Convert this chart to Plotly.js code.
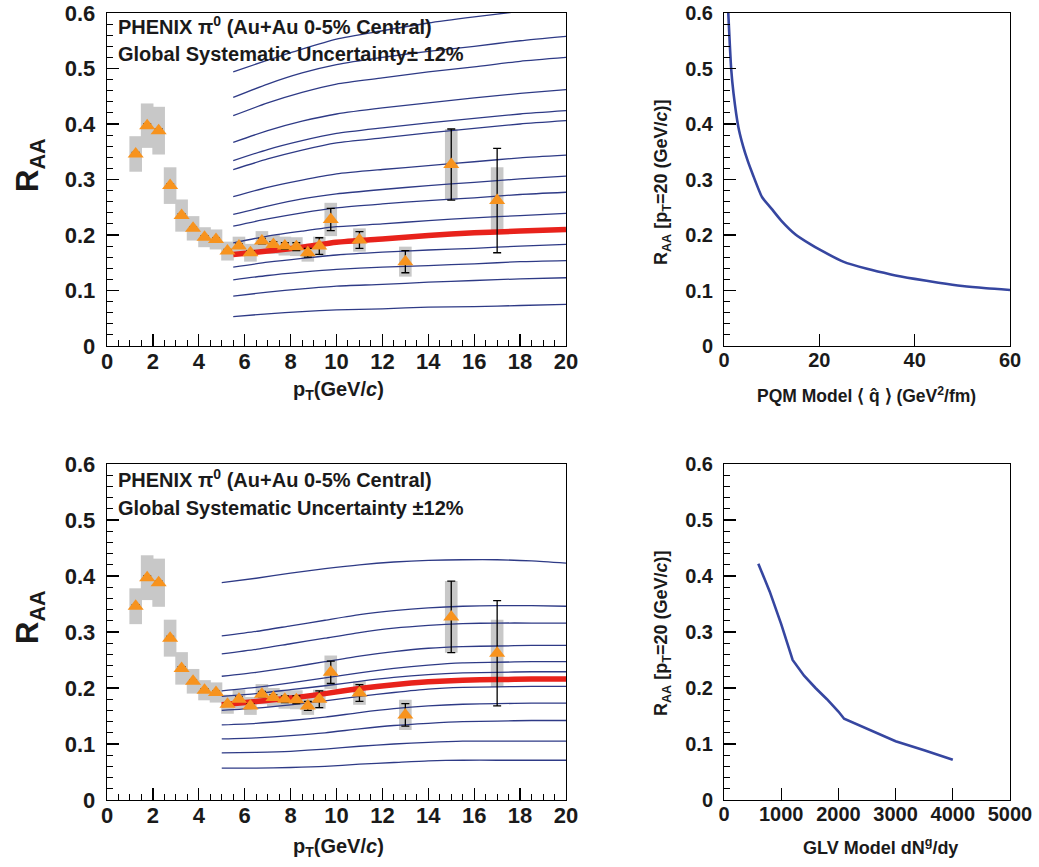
<!DOCTYPE html>
<html>
<head>
<meta charset="utf-8">
<script src="https://cdn.plot.ly/plotly-3.0.1.min.js"></script>
<style>html,body{margin:0;padding:0;background:#fff;}#chart{width:1039px;height:867px;}</style>
</head>
<body>
<div id="chart"></div>
<script>
// ---------- PHENIX pi0 data (Au+Au 0-5%) ----------
const pt      = [1.25,1.75,2.25,2.75,3.25,3.75,4.25,4.75,5.25,5.75,6.25,6.75,7.25,7.75,8.25,8.75,9.25,9.75,11,13,15,17];
const raa     = [0.346,0.397,0.388,0.289,0.235,0.212,0.196,0.192,0.171,0.180,0.168,0.189,0.183,0.180,0.179,0.168,0.180,0.228,0.191,0.152,0.327,0.262];
const statErr = [0.003,0.003,0.003,0.003,0.003,0.003,0.003,0.003,0.003,0.004,0.004,0.005,0.005,0.006,0.007,0.008,0.015,0.020,0.015,0.020,0.064,0.094];
const sysErr  = [0.032,0.040,0.043,0.033,0.029,0.022,0.018,0.018,0.017,0.017,0.016,0.018,0.017,0.017,0.017,0.016,0.017,0.030,0.021,0.027,0.064,0.060];

// ---------- PQM model curves (top left) ----------
const pqmPt   = [5.5,7,8.5,10,12,14,16,18,20];
const pqm01   = [0.494,0.515,0.535,0.553,0.568,0.582,0.593,0.603,0.612];
const pqm02   = [0.448,0.472,0.492,0.507,0.520,0.531,0.540,0.550,0.558];
const pqm03   = [0.415,0.438,0.457,0.472,0.483,0.494,0.503,0.513,0.520];
const pqm04   = [0.367,0.388,0.405,0.418,0.429,0.438,0.447,0.455,0.462];
const pqm05   = [0.334,0.354,0.370,0.383,0.393,0.402,0.410,0.418,0.424];
const pqm06   = [0.318,0.337,0.353,0.366,0.375,0.384,0.392,0.400,0.406];
const pqm07   = [0.269,0.286,0.299,0.310,0.318,0.325,0.332,0.339,0.344];
const pqm08   = [0.237,0.252,0.265,0.274,0.282,0.289,0.295,0.301,0.306];
const pqm09   = [0.216,0.229,0.240,0.249,0.256,0.262,0.267,0.273,0.277];
const pqm10   = [0.186,0.198,0.207,0.215,0.220,0.226,0.231,0.235,0.239];
const pqm11   = [0.142,0.151,0.158,0.164,0.169,0.173,0.176,0.180,0.183];
const pqm12   = [0.119,0.127,0.133,0.138,0.142,0.145,0.148,0.152,0.154];
const pqm13   = [0.090,0.097,0.103,0.108,0.111,0.115,0.118,0.121,0.123];
const pqm14   = [0.053,0.058,0.062,0.065,0.067,0.070,0.071,0.073,0.075];
const pqmBest = [0.165,0.171,0.178,0.187,0.193,0.199,0.204,0.207,0.210];

// ---------- GLV model curves (bottom left) ----------
const glvPt   = [5,6.5,8,9.5,11,12.5,14,15.5,17,18.5,20];
const glv01   = [0.388,0.396,0.405,0.413,0.420,0.425,0.428,0.429,0.429,0.427,0.423];
const glv02   = [0.293,0.301,0.311,0.321,0.331,0.338,0.343,0.346,0.347,0.347,0.346];
const glv03   = [0.261,0.269,0.279,0.289,0.299,0.307,0.312,0.315,0.316,0.316,0.316];
const glv04   = [0.221,0.228,0.237,0.247,0.257,0.265,0.271,0.274,0.275,0.276,0.276];
const glv05   = [0.195,0.201,0.209,0.218,0.227,0.235,0.241,0.245,0.246,0.247,0.247];
const glv06   = [0.185,0.190,0.197,0.204,0.212,0.219,0.224,0.227,0.228,0.229,0.229];
const glv07   = [0.160,0.164,0.170,0.177,0.185,0.192,0.198,0.201,0.202,0.203,0.203];
const glv08   = [0.134,0.137,0.142,0.148,0.156,0.163,0.168,0.171,0.172,0.173,0.173];
const glv09   = [0.109,0.111,0.115,0.120,0.127,0.133,0.137,0.140,0.141,0.142,0.142];
const glv10   = [0.084,0.085,0.087,0.091,0.096,0.100,0.103,0.105,0.105,0.105,0.105];
const glv11   = [0.057,0.057,0.058,0.060,0.064,0.067,0.070,0.071,0.071,0.071,0.071];
const glvBest = [0.170,0.176,0.182,0.190,0.199,0.206,0.211,0.214,0.215,0.216,0.216];

// ---------- R_AA(pT=20) vs model parameter (right) ----------
const qhat    = [0.9,1.5,2,3,4,5,6,8,10,12,15,18,20,25,30,35,40,45,50,55,60];
const raaQhat = [0.600,0.500,0.455,0.395,0.360,0.333,0.310,0.268,0.247,0.226,0.201,0.184,0.174,0.152,0.139,0.129,0.121,0.114,0.108,0.104,0.101];
const dNg     = [600,800,1000,1200,1400,1600,1800,2000,2100,2500,3000,3500,4000];
const raaDNg  = [0.422,0.372,0.314,0.250,0.222,0.200,0.180,0.158,0.145,0.127,0.105,0.089,0.072];

// ---------- texts ----------
const label1 = 'PHENIX π<sup>0</sup> (Au+Au 0-5% Central)';
const label2Top = 'Global Systematic Uncertainty± 12%';
const label2Bot = 'Global Systematic Uncertainty ±12%';
const yTitleLeft = 'R<sub>AA</sub>';
const xTitleLeft = 'p<sub>T</sub>(GeV/<i>c</i>)';
const yTitleRight = 'R<sub>AA</sub> [p<sub>T</sub>=20 (GeV/<i>c</i>)]';
const xTitlePQM = 'PQM Model ⟨ q\u0302 ⟩ (GeV<sup>2</sup>/fm)';
const xTitleGLV = 'GLV Model dN<sup>g</sup>/dy';

// ---------- styles ----------
const FONT = 'Liberation Sans, Arial, Helvetica, sans-serif';
const BLUE = '#2e3a86';
const RED = '#e8221b';
const ORANGE = '#f7931e';
const GREY = '#c8c8c8';

const traces = [];
function dataTraces(xa, ya) {
  traces.push({
    type: 'bar', x: pt, y: sysErr.map(s => 2 * s), base: raa.map((v, i) => v - sysErr[i]),
    width: 0.55, marker: {color: GREY, line: {width: 0}}, xaxis: xa, yaxis: ya,
    showlegend: false, hoverinfo: 'skip'
  });
}
function curve(x, y, xa, ya, color, width) {
  traces.push({type: 'scatter', mode: 'lines', x: x, y: y, xaxis: xa, yaxis: ya,
    line: {color: color, width: width, shape: 'spline', smoothing: 0.6}, showlegend: false, hoverinfo: 'skip'});
}
function points(xa, ya) {
  traces.push({
    type: 'scatter', mode: 'markers', x: pt, y: raa, xaxis: xa, yaxis: ya,
    marker: {symbol: 'triangle-up', size: 14, color: ORANGE, line: {width: 0}},
    error_y: {type: 'data', array: statErr, visible: true, color: '#000', thickness: 1.3, width: 4},
    showlegend: false
  });
}

// top-left
dataTraces('x', 'y');
[pqm01,pqm02,pqm03,pqm04,pqm05,pqm06,pqm07,pqm08,pqm09,pqm10,pqm11,pqm12,pqm13,pqm14]
  .forEach(c => curve(pqmPt, c, 'x', 'y', BLUE, 1.3));
curve(pqmPt, pqmBest, 'x', 'y', RED, 5.5);
points('x', 'y');

// bottom-left
dataTraces('x3', 'y3');
[glv01,glv02,glv03,glv04,glv05,glv06,glv07,glv08,glv09,glv10,glv11]
  .forEach(c => curve(glvPt, c, 'x3', 'y3', BLUE, 1.3));
curve(glvPt, glvBest, 'x3', 'y3', RED, 5.5);
points('x3', 'y3');

// right panels
curve(qhat, raaQhat, 'x2', 'y2', '#3646a0', 2.6);
traces.push({type: 'scatter', mode: 'lines', x: dNg, y: raaDNg, xaxis: 'x4', yaxis: 'y4',
  line: {color: '#3646a0', width: 2.6}, showlegend: false});

function axis(opts) {
  return Object.assign({
    showgrid: false, zeroline: false, showline: true, mirror: true,
    linecolor: '#000', linewidth: 1.3, ticks: 'inside', ticklen: 12, tickwidth: 1.2, tickcolor: '#000',
    tickfont: {family: FONT, size: 22, color: '#1a1a1a', weight: 'bold'},
    fixedrange: true, exponentformat: 'none', automargin: false, ticklabeloverflow: 'allow'
  }, opts);
}
const yMinor = {dtick: 0.02, ticks: 'inside', ticklen: 6, tickcolor: '#000', tickwidth: 1, showgrid: false};
const rightFont = {family: FONT, size: 20, color: '#1a1a1a', weight: 'bold'};

const topY = [1 - 346/867, 1 - 13/867];
const botY = [1 - 800/867, 1 - 464/867];
const leftX = [107/1039, 566/1039];
const rightX = [724/1039, 1010/1039];

const layout = {
  width: 1039, height: 867,
  margin: {l: 0, r: 0, t: 0, b: 0},
  paper_bgcolor: '#fff', plot_bgcolor: '#fff',
  barmode: 'overlay', showlegend: false,
  xaxis:  axis({domain: leftX, anchor: 'y', range: [0, 20], dtick: 2, tick0: 0, ticklabelstandoff: -5,
                minor: {dtick: 0.5, ticks: 'inside', ticklen: 6, tickcolor: '#000', tickwidth: 1, showgrid: false}}),
  yaxis:  axis({domain: topY, anchor: 'x', range: [0, 0.6], dtick: 0.1, tick0: 0, ticklabelstandoff: 6, minor: yMinor}),
  xaxis3: axis({domain: leftX, anchor: 'y3', range: [0, 20], dtick: 2, tick0: 0, ticklabelstandoff: -5,
                minor: {dtick: 0.5, ticks: 'inside', ticklen: 6, tickcolor: '#000', tickwidth: 1, showgrid: false}}),
  yaxis3: axis({domain: botY, anchor: 'x3', range: [0, 0.6], dtick: 0.1, tick0: 0, ticklabelstandoff: 6, minor: yMinor}),
  xaxis2: axis({domain: rightX, anchor: 'y2', range: [0, 60], dtick: 20, tick0: 0, linewidth: 1, ticklabelstandoff: -4, tickfont: rightFont}),
  yaxis2: axis({domain: topY, anchor: 'x2', range: [0, 0.6], dtick: 0.1, tick0: 0, linewidth: 1, ticklabelstandoff: 6, minor: yMinor, tickfont: rightFont}),
  xaxis4: axis({domain: rightX, anchor: 'y4', range: [0, 5000], dtick: 1000, tick0: 0, linewidth: 1, ticklabelstandoff: -4, tickfont: rightFont}),
  yaxis4: axis({domain: botY, anchor: 'x4', range: [0, 0.6], dtick: 0.1, tick0: 0, linewidth: 1, ticklabelstandoff: 6, minor: yMinor, tickfont: rightFont}),
  annotations: []
};

function ann(text, px, py, size, opts) {
  layout.annotations.push(Object.assign({
    text: text, xref: 'paper', yref: 'paper', x: px / 1039, y: 1 - py / 867,
    showarrow: false, xanchor: 'center', yanchor: 'middle',
    font: {family: FONT, size: size, color: '#1a1a1a', weight: 'bold'}
  }, opts || {}));
}
// in-plot labels
ann(label1, 116, 25, 20, {xanchor: 'left'});
ann(label2Top, 116, 54, 20, {xanchor: 'left'});
ann(label1, 116, 478, 20, {xanchor: 'left'});
ann(label2Bot, 116, 508, 20, {xanchor: 'left'});
// axis titles
ann(yTitleLeft, 30, 165, 31, {textangle: -90});
ann(yTitleLeft, 30, 617, 31, {textangle: -90});
ann(xTitleLeft, 338, 391, 20);
ann(xTitleLeft, 338, 847, 20);
ann(yTitleRight, 662, 183, 18, {textangle: -90});
ann(yTitleRight, 662, 634, 18, {textangle: -90});
ann(xTitlePQM, 866, 395, 17.5);
ann(xTitleGLV, 880, 846, 18);

Plotly.newPlot('chart', traces, layout, {staticPlot: true, displayModeBar: false});
</script>
</body>
</html>
